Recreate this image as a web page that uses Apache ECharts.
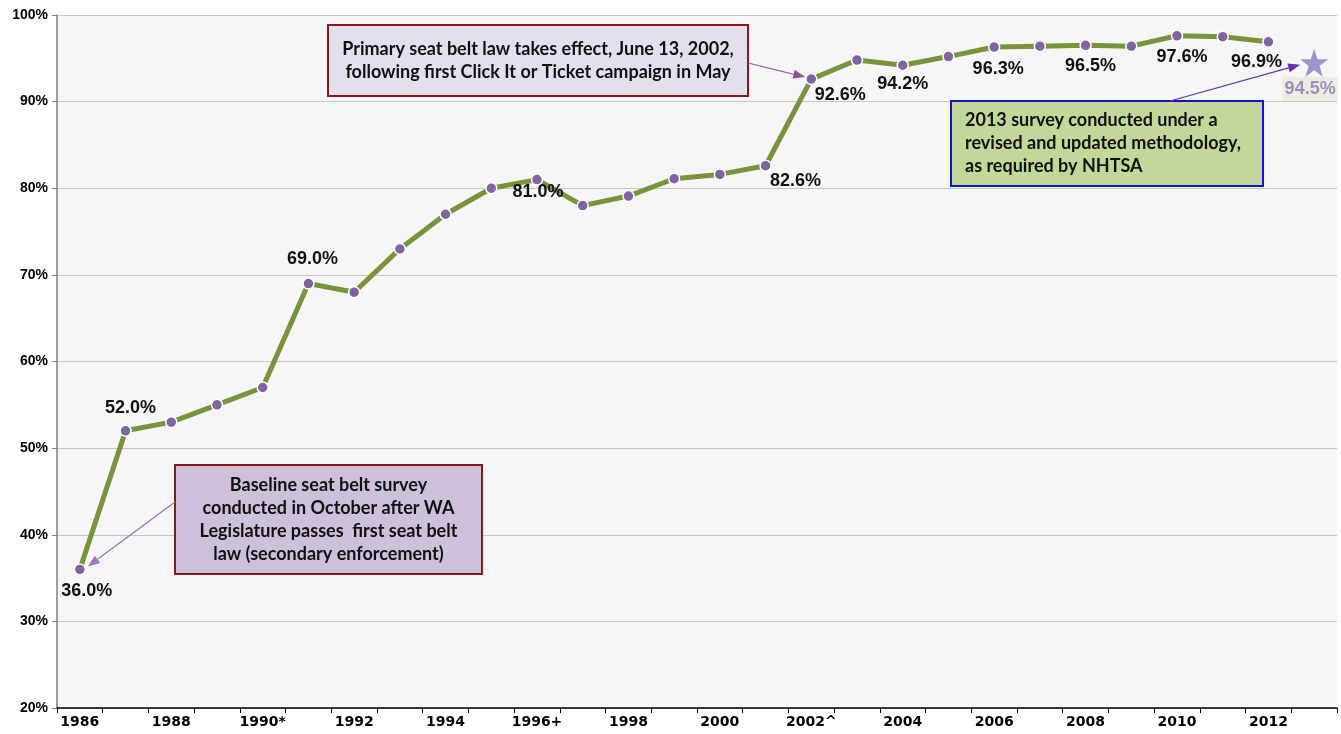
<!DOCTYPE html>
<html>
<head>
<meta charset="utf-8">
<script src="https://cdn.jsdelivr.net/npm/echarts@6/dist/echarts.min.js"></script>
<style>
html,body{margin:0;padding:0;background:#fff;}
#chart{width:1341px;height:734px;}
</style>
</head>
<body>
<div id="chart"></div>
<script>
// ---- data ----
var categories = ['1986','1987','1988','1989','1990*','1991','1992','1993','1994','1995','1996+','1997','1998','1999','2000','2001','2002^','2003','2004','2005','2006','2007','2008','2009','2010','2011','2012','2013'];
var usageRate = [36.0,52.0,53.0,55.0,57.0,69.0,68.0,73.0,77.0,80.0,81.0,78.0,79.1,81.1,81.6,82.6,92.6,94.8,94.2,95.2,96.3,96.4,96.5,96.4,97.6,97.5,96.9,null];
var revisedRate = [null,null,null,null,null,null,null,null,null,null,null,null,null,null,null,null,null,null,null,null,null,null,null,null,null,null,null,94.5];
var yTicks = [20,30,40,50,60,70,80,90,100];
// labelled points: category index -> label offset from point centre
var labelled = {0:[7,22],1:[5,-23],5:[4,-25],10:[1,12],15:[30,15],16:[29,16],18:[0,19],20:[4,22],22:[5,21],24:[5,21],26:[-12,20]};

var chart = echarts.init(document.getElementById('chart'));
var labelFont = {fontFamily:'Liberation Sans, Arial', fontWeight:'bold', fontSize:18, color:'#111'};

var mainData = usageRate.map(function(v,i){
  var d = {value:v};
  if (labelled[i]) {
    d.label = Object.assign({show:true, position:'inside', offset:labelled[i],
      formatter:function(p){return p.value.toFixed(1)+'%';}}, labelFont);
  }
  return d;
});
var starData = revisedRate.map(function(v){
  return v == null ? {value:null} : {value:v, label:{show:true, position:'inside', offset:[-4,26],
    formatter:function(p){return p.value.toFixed(1)+'%';},
    fontFamily:'Liberation Sans, Arial', fontWeight:'bold', fontSize:18,
    color:'#8a75b8', backgroundColor:'#e8ebda', padding:[4,2,2,2]}};
});

var option = {
  animation:false,
  backgroundColor:'#ffffff',
  grid:{left:57,right:4,top:15,bottom:26,show:true,backgroundColor:'#f6f6f6',borderWidth:0},
  xAxis:{
    type:'category', data:categories, boundaryGap:true,
    axisLine:{lineStyle:{color:'#000',width:1.5}},
    axisTick:{show:true,interval:0,length:5,lineStyle:{color:'#000'}},
    axisLabel:{interval:1,margin:7,fontFamily:'DejaVu Sans, Arial',fontWeight:'bold',fontSize:14,color:'#000'},
    splitLine:{show:false}
  },
  yAxis:{
    type:'value', min:yTicks[0], max:yTicks[yTicks.length-1], interval:10,
    axisLine:{show:true,lineStyle:{color:'#7f7f7f',width:1.5}},
    axisTick:{show:true,length:5,lineStyle:{color:'#7f7f7f'}},
    axisLabel:{formatter:'{value}%',margin:9,fontFamily:'Liberation Sans, Arial',fontWeight:'bold',fontSize:14,color:'#000'},
    splitLine:{show:true,lineStyle:{color:'#c6c6c6',width:1}}
  },
  series:[
    {type:'line', data:mainData, symbol:'circle', symbolSize:11,
     lineStyle:{color:'#77933c',width:5},
     itemStyle:{color:'#8064a2',borderColor:'#ffffff',borderWidth:1.5},
     z:3},
    {type:'scatter', data:starData, symbol:'path://M50,0 L61.8,35.1 L98.9,35.5 L69.1,57.6 L80.2,93 L50,71.6 L19.8,93 L30.9,57.6 L1.1,35.5 L38.2,35.1 Z', symbolSize:28,
     itemStyle:{color:'#8a7cbe'}, z:4}
  ]
};
chart.setOption(option);

// ---- annotations ----
function arrow(x1,y1,x2,y2,color){
  var a = Math.atan2(y2-y1,x2-x1), L=12, W=4.5;
  var bx = x2 - L*Math.cos(a), by = y2 - L*Math.sin(a);
  var px = -Math.sin(a)*W, py = Math.cos(a)*W;
  return [
    {type:'line',shape:{x1:x1,y1:y1,x2:bx,y2:by},style:{stroke:color,lineWidth:1.2},z:10},
    {type:'polygon',shape:{points:[[x2,y2],[bx+px,by+py],[bx-px,by-py]]},style:{fill:color},z:10}
  ];
}
function box(x,y,w,h,fill,stroke,lines,align,lineH,tx){
  var els=[{type:'rect',shape:{x:x,y:y,width:w,height:h},style:{fill:fill,stroke:stroke,lineWidth:2},z:9}];
  var startY = y + h/2 - (lines.length-1)*lineH/2;
  lines.forEach(function(t,i){
    els.push({type:'text',x:(align==='center'?x+w/2:tx),y:startY+i*lineH,z:11,
      style:{text:t,fill:'#111',font:'bold 18px Lato, "Open Sans", sans-serif',textAlign:align,textVerticalAlign:'middle'}});
  });
  return els;
}
function px(i,v){ return chart.convertToPixel({seriesIndex:0},[i,v]); }
var p2002 = px(16,usageRate[16]);
var p1986 = px(0,usageRate[0]);
var p2013 = chart.convertToPixel({seriesIndex:1},[27,revisedRate[27]]);

var g = [];
g = g.concat(box(328,25,420,71,'#e4dfec','#8f1416',['Primary seat belt law takes effect, June 13, 2002,','following first Click It or Ticket campaign in May'],'center',23));
g = g.concat(box(175,465,307,109,'#ccc0da','#8f1416',['Baseline seat belt survey','conducted in October after WA','Legislature passes  first seat belt','law (secondary enforcement)'],'center',23));
g = g.concat(box(951,101,312,85,'#c4d79b','#1414c8',['2013 survey conducted under a','revised and updated methodology,','as required by NHTSA'],'left',23,965));
g = g.concat(arrow(748,63,p2002[0]-6,p2002[1]-2,'#8e4f9e'));
g = g.concat(arrow(175,502,p1986[0]+8,p1986[1]-3,'#9575c0'));
g = g.concat(arrow(1170,101,p2013[0]-14,p2013[1]+2,'#6a2fb0'));
chart.setOption({graphic:{elements:g}});
</script>
</body>
</html>
